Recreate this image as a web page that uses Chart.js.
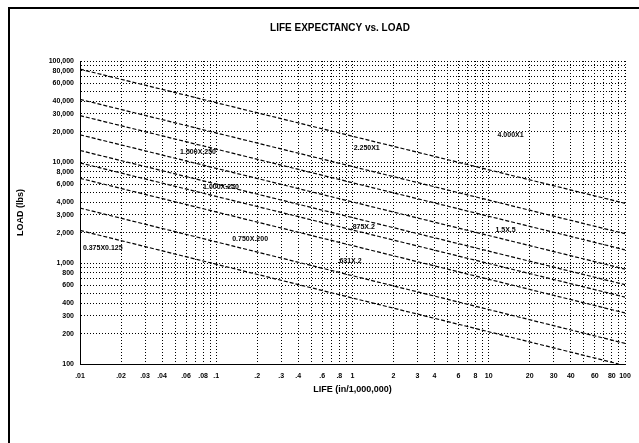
<!DOCTYPE html>
<html>
<head>
<meta charset="utf-8">
<script src="https://cdn.jsdelivr.net/npm/chart.js@4.4.1/dist/chart.umd.min.js"></script>
<style>
html, body { margin:0; padding:0; background:#fff; overflow:hidden; }
</style>
</head>
<body>
<canvas id="lifeChart" width="639" height="443"></canvas>
<script>
// grid / tick values (log-log chart)
const xTicks = [0.01,0.02,0.03,0.04,0.05,0.06,0.07,0.08,0.09,
                0.1,0.2,0.3,0.4,0.5,0.6,0.7,0.8,0.9,
                1,2,3,4,5,6,7,8,9,
                10,20,30,40,50,60,70,80,90,100];
const xLabeled = [0.01,0.02,0.03,0.04,0.06,0.08,0.1,0.2,0.3,0.4,0.6,0.8,
                  1,2,3,4,6,8,10,20,30,40,60,80,100];
const yTicks = [100,200,300,400,500,600,700,800,900,
                1000,2000,3000,4000,5000,6000,7000,8000,9000,
                10000,20000,30000,40000,50000,60000,70000,80000,90000,100000];
const yLabeled = [100,200,300,400,600,800,1000,2000,3000,4000,6000,8000,
                  10000,20000,30000,40000,60000,80000,100000];

// one straight line per screw size: start point and end point (life, load)
const sizeNames = ["4.000X1","2.250X1","1.500X.250","1.000X.250",".875X.2","0.750X.200","1.5X.5",".631X.2","0.375X0.125"];
const lifeStart = [0.01,0.01,0.01,0.01,0.01,0.01,0.01,0.01,0.01];
const loadStart = [83000,41700,28800,18600,9800,6900,3500,13000,2100];
const lifeEnd   = [100,100,100,100,100,100,100,100,90];
const loadEnd   = [3900,1950,1350,870,460,320,160,610,100];

// label anchors (life, load)
const labelText = ["1.500X.250","2.250X1","4.000X1","1.000X.250","0.750X.200",".875X.2","1.5X.5",".631X.2","0.375X0.125"];
const labelLife = [0.0543,1.02,11.6,0.080,0.131,0.97,11.2,0.776,0.0105];
const labelLoad = [12600,13800,18600,5600,1740,2290,2140,1050,1410];

const FONT = '"Liberation Sans", Arial, sans-serif';

function fmtX(v) {
    if (v < 1) return String(v).replace('0.', '.');
    return String(v);
}

const framePlugin = {
    id: 'frame',
    beforeDraw(chart) {
        const ctx = chart.ctx;
        ctx.save();
        ctx.strokeStyle = '#000'; ctx.lineWidth = 2;
        ctx.beginPath();
        ctx.moveTo(9, 450); ctx.lineTo(9, 8); ctx.lineTo(645, 8);
        ctx.stroke();
        ctx.restore();
    },
    afterDraw(chart) {
        const ctx = chart.ctx;
        ctx.save();
        ctx.fillStyle = '#000';
        ctx.font = 'bold 10px ' + FONT;
        ctx.textAlign = 'center'; ctx.textBaseline = 'middle';
        ctx.fillText('LIFE EXPECTANCY vs. LOAD', 340, 28);
        ctx.restore();
    }
};

const labelPlugin = {
    id: 'sizeLabels',
    afterDatasetsDraw(chart) {
        const ctx = chart.ctx, xs = chart.scales.x, ys = chart.scales.y;
        ctx.save();
        ctx.fillStyle = '#000';
        ctx.font = 'bold 7px ' + FONT;
        ctx.textAlign = 'left'; ctx.textBaseline = 'middle';
        labelText.forEach((t, i) => {
            ctx.fillText(t, xs.getPixelForValue(labelLife[i]), ys.getPixelForValue(labelLoad[i]));
        });
        ctx.restore();
    }
};

const datasets = sizeNames.map((n, i) => ({
    label: n,
    data: [{x: lifeStart[i], y: loadStart[i]}, {x: lifeEnd[i], y: loadEnd[i]}],
    showLine: true,
    borderColor: '#000',
    borderWidth: 1.2,
    borderDash: [4, 2],
    pointRadius: 0
}));

new Chart(document.getElementById('lifeChart').getContext('2d'), {
    type: 'scatter',
    data: { datasets },
    options: {
        responsive: false,
        animation: false,
        layout: { padding: { left: 0, right: 14, top: 61, bottom: 39 } },
        plugins: { legend: { display: false }, tooltip: { enabled: false } },
        scales: {
            x: {
                type: 'logarithmic', min: 0.01, max: 100,
                afterBuildTicks: s => { s.ticks = xTicks.map(v => ({ value: v })); },
                afterFit: s => { s.height = 40; },
                ticks: {
                    autoSkip: false, maxRotation: 0, padding: 8, color: '#000',
                    font: { family: FONT, size: 7, weight: 'bold' },
                    callback: v => xLabeled.includes(v) ? fmtX(v) : ''
                },
                grid: { color: '#000', lineWidth: 1, drawTicks: false },
                border: { color: '#000', dash: [1, 2] },
                title: { display: true, text: 'LIFE (in/1,000,000)', color: '#000',
                         font: { family: FONT, size: 9, weight: 'bold' }, padding: { top: 0, bottom: 9 } }
            },
            y: {
                type: 'logarithmic', min: 100, max: 100000,
                afterBuildTicks: s => { s.ticks = yTicks.map(v => ({ value: v })); },
                afterFit: s => { s.width = 80; },
                ticks: {
                    autoSkip: false, padding: 6, color: '#000',
                    font: { family: FONT, size: 7, weight: 'bold' },
                    callback: v => yLabeled.includes(v) ? v.toLocaleString('en-US') : ''
                },
                grid: { color: '#000', lineWidth: 1, drawTicks: false },
                border: { color: '#000', dash: [1, 2] },
                title: { display: true, text: 'LOAD (lbs)', color: '#000',
                         font: { family: FONT, size: 9, weight: 'bold' }, padding: { top: 15, bottom: 0 } }
            }
        }
    },
    plugins: [framePlugin, labelPlugin]
});
</script>
</body>
</html>
